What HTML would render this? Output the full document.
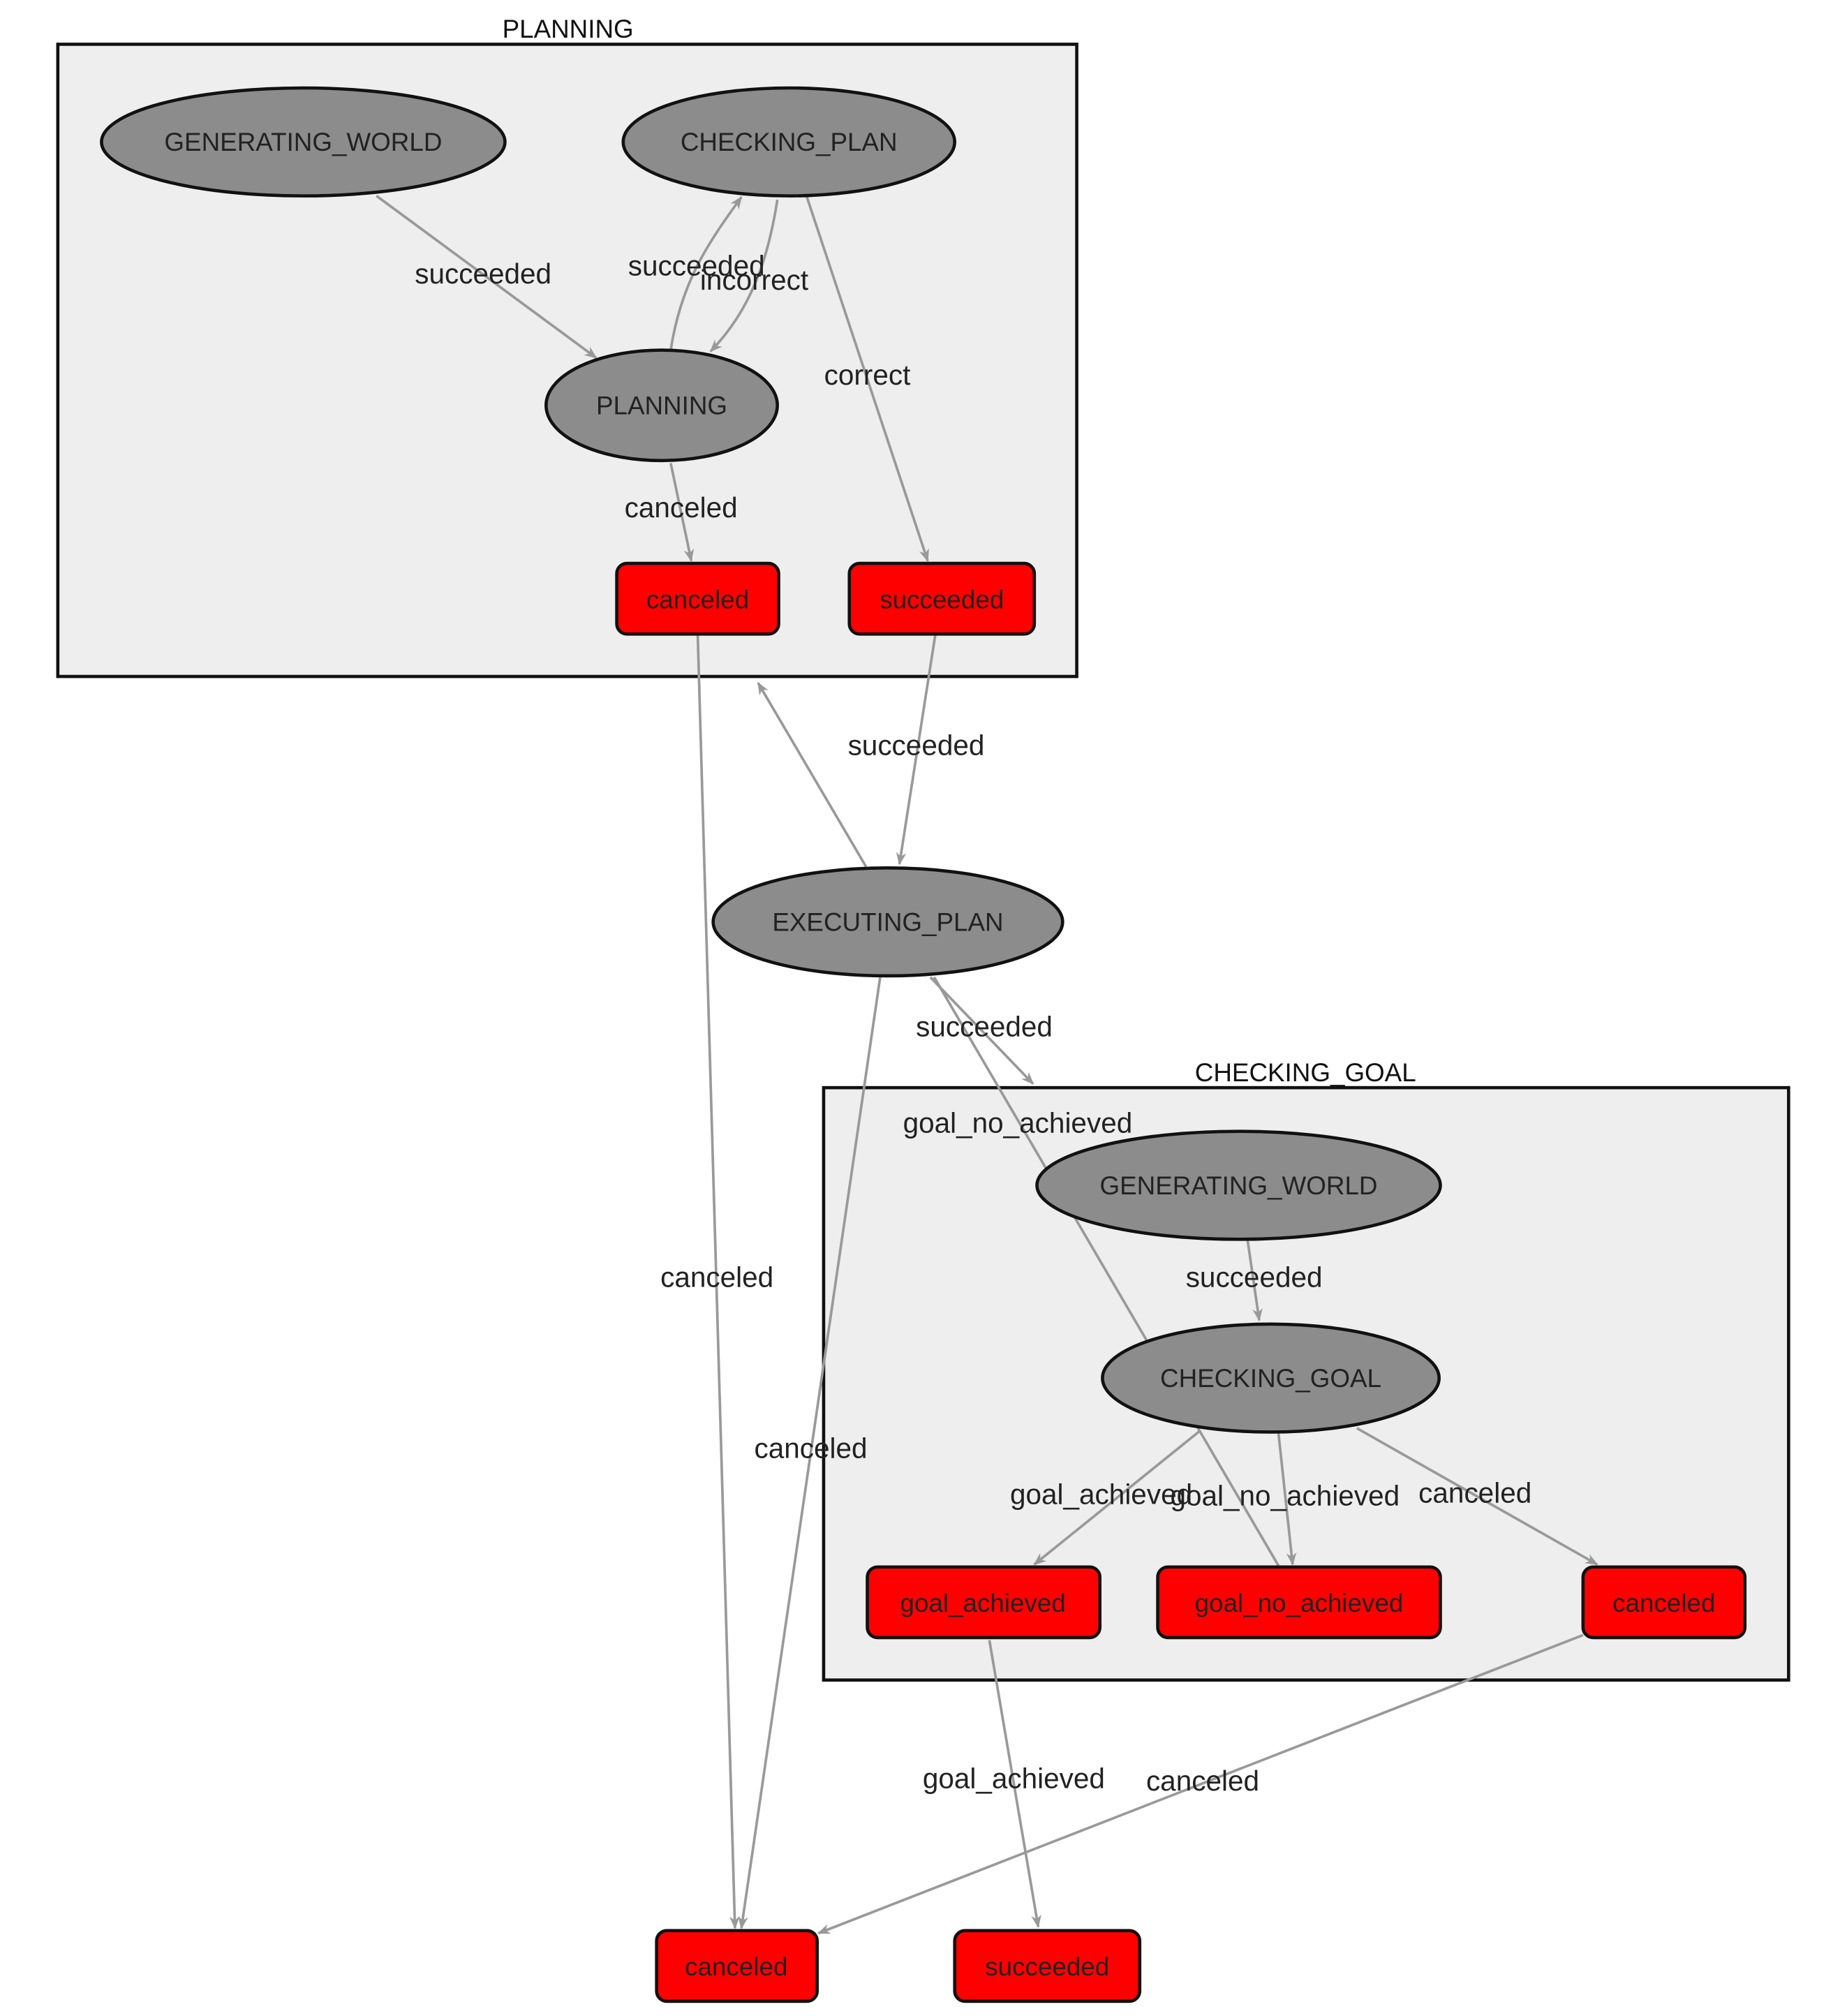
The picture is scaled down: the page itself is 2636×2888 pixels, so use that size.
<!DOCTYPE html>
<html><head><meta charset="utf-8"><style>
html,body{margin:0;padding:0;background:#fff;}
svg{display:block;}
text{font-family:"Liberation Sans",sans-serif;}
</style></head><body>
<svg width="2636" height="2888" viewBox="0 0 1432 1568" xmlns="http://www.w3.org/2000/svg">
<defs>
<marker id="a" markerWidth="10" markerHeight="10" refX="9" refY="5" orient="auto" markerUnits="userSpaceOnUse">
<path d="M0,1 L10,5 L0,9 L3,5 Z" fill="#999"/>
</marker>
</defs>
<rect width="1432" height="1568" fill="#fff"/>
<!-- clusters -->
<rect x="45" y="34" width="793" height="492" fill="#eeeeee" stroke="#111" stroke-width="2.5"/>
<text x="442" y="29" font-size="20" text-anchor="middle" fill="#111">PLANNING</text>
<rect x="641" y="846" width="751" height="461" fill="#eeeeee" stroke="#111" stroke-width="2.5"/>
<text x="1016" y="841" font-size="20" text-anchor="middle" fill="#111">CHECKING_GOAL</text>

<g stroke="#999" stroke-width="2" fill="none">
<line x1="293" y1="152" x2="464" y2="278" marker-end="url(#a)"/>
<path d="M522,272 C530,220 550,190 577,153" marker-end="url(#a)"/>
<path d="M605,155 C598,200 585,240 553,273" marker-end="url(#a)"/>
<line x1="628" y1="153" x2="722" y2="436" marker-end="url(#a)"/>
<line x1="522" y1="360" x2="538" y2="436" marker-end="url(#a)"/>
<line x1="543" y1="493" x2="572" y2="1500" marker-end="url(#a)"/>
<line x1="728" y1="493" x2="700" y2="672" marker-end="url(#a)"/>
<line x1="674" y1="674" x2="590" y2="531" marker-end="url(#a)"/>
<line x1="724" y1="760" x2="804" y2="843" marker-end="url(#a)"/>
<line x1="685" y1="760" x2="577" y2="1500" marker-end="url(#a)"/>
<line x1="995" y1="1218" x2="727" y2="760"/>
<line x1="971" y1="965" x2="980" y2="1027" marker-end="url(#a)"/>
<line x1="934" y1="1113" x2="805" y2="1217" marker-end="url(#a)"/>
<line x1="995" y1="1115" x2="1006" y2="1217" marker-end="url(#a)"/>
<line x1="1056" y1="1111" x2="1243" y2="1217" marker-end="url(#a)"/>
<line x1="1232" y1="1272" x2="637" y2="1504" marker-end="url(#a)"/>
<line x1="770" y1="1276" x2="808" y2="1499" marker-end="url(#a)"/>
</g>

<g fill="#8c8c8c" stroke="#111" stroke-width="2.5">
<ellipse cx="236" cy="110" rx="157" ry="42"/>
<ellipse cx="614" cy="110" rx="129" ry="42"/>
<ellipse cx="515" cy="315" rx="90" ry="43"/>
<ellipse cx="691" cy="717" rx="136" ry="42"/>
<ellipse cx="964" cy="922" rx="157" ry="42"/>
<ellipse cx="989" cy="1072" rx="131" ry="42"/>
</g>
<g fill="#ff0000" stroke="#111" stroke-width="2.5">
<rect x="480" y="438" width="126" height="55" rx="8"/>
<rect x="661" y="438" width="144" height="55" rx="8"/>
<rect x="675" y="1219" width="181" height="55" rx="8"/>
<rect x="901" y="1219" width="220" height="55" rx="8"/>
<rect x="1232" y="1219" width="126" height="55" rx="8"/>
<rect x="511" y="1502" width="125" height="55" rx="8"/>
<rect x="743" y="1502" width="144" height="55" rx="8"/>
</g>

<g font-size="20" text-anchor="middle" fill="#222">
<text x="236" y="117">GENERATING_WORLD</text>
<text x="614" y="117">CHECKING_PLAN</text>
<text x="515" y="322">PLANNING</text>
<text x="691" y="724">EXECUTING_PLAN</text>
<text x="964" y="929">GENERATING_WORLD</text>
<text x="989" y="1079">CHECKING_GOAL</text>
<text x="543" y="473">canceled</text>
<text x="733" y="473">succeeded</text>
<text x="765" y="1254">goal_achieved</text>
<text x="1011" y="1254">goal_no_achieved</text>
<text x="1295" y="1254">canceled</text>
<text x="573" y="1537">canceled</text>
<text x="815" y="1537">succeeded</text>
</g>

<g font-size="22" text-anchor="middle" fill="#222">
<text x="376" y="220">succeeded</text>
<text x="542" y="214">succeeded</text>
<text x="587" y="225">incorrect</text>
<text x="675" y="299">correct</text>
<text x="530" y="402">canceled</text>
<text x="713" y="587">succeeded</text>
<text x="766" y="806">succeeded</text>
<text x="792" y="881">goal_no_achieved</text>
<text x="558" y="1001">canceled</text>
<text x="976" y="1001">succeeded</text>
<text x="631" y="1134">canceled</text>
<text x="857" y="1170">goal_achieved</text>
<text x="1000" y="1171">goal_no_achieved</text>
<text x="1148" y="1169">canceled</text>
<text x="789" y="1391">goal_achieved</text>
<text x="936" y="1393">canceled</text>
</g>
</svg>
</body></html>
